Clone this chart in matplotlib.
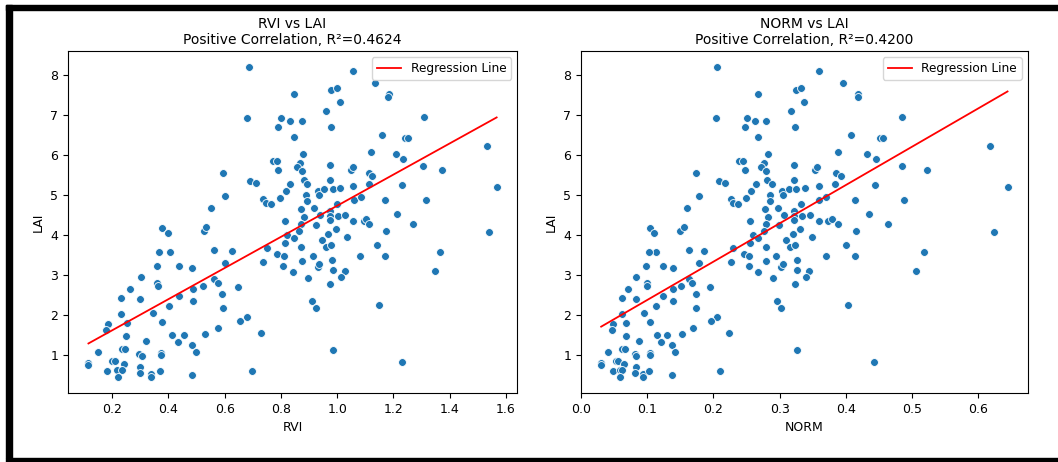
import numpy as np
import matplotlib
matplotlib.use("Agg")
import matplotlib.pyplot as plt
from matplotlib.patches import Rectangle

# LAI values (shared by both panels, same order)
lai = [
    8.22, 8.11, 7.81, 7.53, 7.45, 7.53, 7.63, 7.69, 7.34, 7.12,
    6.93, 6.93, 6.87, 6.85, 6.72, 6.72, 6.97, 6.45, 6.51, 6.43,
    6.43, 6.23, 6.04, 6.08, 6.03, 5.92, 5.55, 5.85, 5.85, 5.63,
    5.80, 5.72, 5.61, 5.76, 5.64, 5.72, 5.73, 5.63, 5.35, 5.31,
    5.38, 5.28, 5.28, 5.38, 5.24, 5.29, 5.57, 5.48, 5.27, 5.22,
    4.98, 4.69, 4.10, 4.20, 4.18, 4.07, 3.59, 3.59, 3.63, 3.60,
    3.30, 3.24, 3.24, 3.18, 2.97, 2.80, 2.73, 2.92, 2.80, 2.73,
    2.65, 2.72, 2.67, 2.44, 2.42, 2.48, 2.53, 2.35, 2.03, 2.05,
    2.23, 2.18, 1.84, 1.82, 1.97, 1.87, 1.78, 1.63, 1.68, 1.48,
    1.50, 1.50, 1.54, 1.56, 1.37, 1.33, 1.26, 1.09, 1.09, 1.15,
    1.15, 1.03, 0.98, 1.07, 1.00, 1.13, 0.81, 0.75, 0.87, 0.85,
    0.78, 0.60, 0.64, 0.64, 0.45, 0.72, 0.56, 0.54, 0.45, 0.60,
    0.52, 0.60, 0.83,
    4.90, 4.82, 4.78, 4.93, 5.10, 5.02, 4.85, 5.12, 5.00, 5.15,
    5.17, 5.18, 4.89, 4.95, 4.88, 4.88, 4.79, 4.67, 4.69, 4.62,
    4.47, 4.49, 4.38, 4.49, 4.50, 4.52, 4.35, 4.37, 4.36, 4.40,
    4.28, 4.54, 4.27, 4.28, 4.17, 4.12, 4.10, 4.29, 4.09, 4.01,
    3.93, 4.03, 3.97, 3.88, 3.80, 3.72, 3.76, 3.69, 3.71, 3.75,
    3.53, 3.48, 3.49, 3.48, 3.48, 3.58, 3.33, 3.36, 3.39, 3.23,
    3.20, 3.29, 3.09, 3.13, 3.12, 3.12, 2.97, 2.93, 2.79, 2.37,
    2.18, 2.27,
]

rvi = [
    0.685, 1.057, 1.133, 1.183, 1.180, 0.845, 0.980, 0.998, 1.010, 0.961,
    0.678, 0.799, 0.831, 0.874, 0.789, 0.980, 1.309, 0.848, 1.160, 1.243,
    1.252, 1.531, 0.880, 1.120, 1.209, 1.235, 0.593, 0.772, 0.787, 0.789,
    0.867, 0.858, 0.874, 0.976, 1.050, 1.057, 1.306, 1.372, 0.691, 0.711,
    0.881, 0.894, 0.833, 0.974, 1.058, 1.112, 1.115, 1.125, 1.232, 1.567,
    0.602, 0.553, 0.527, 0.533, 0.378, 0.400, 0.406, 0.368, 0.564, 0.628,
    0.602, 0.359, 0.438, 0.484, 0.302, 0.358, 0.364, 0.561, 0.578, 0.524,
    0.489, 0.649, 0.263, 0.233, 0.300, 0.438, 0.590, 0.488, 0.231, 0.347,
    0.403, 0.593, 0.377, 0.252, 0.679, 0.655, 0.185, 0.177, 0.578, 0.250,
    0.413, 0.457, 0.530, 0.730, 0.322, 0.433, 0.484, 0.497, 0.151, 0.234,
    0.246, 0.297, 0.308, 0.375, 0.375, 0.984, 0.116, 0.116, 0.200, 0.210,
    0.242, 0.182, 0.218, 0.235, 0.220, 0.301, 0.299, 0.337, 0.337, 0.371,
    0.483, 0.699, 1.229,
    0.736, 0.747, 0.766, 0.797, 0.817, 0.890, 0.894, 0.932, 0.936, 0.955,
    0.984, 1.010, 1.060, 1.085, 1.169, 1.316, 1.000, 0.873, 0.919, 0.974,
    0.883, 0.973, 0.973, 1.002, 1.028, 0.939, 0.815, 1.057, 1.094, 1.103,
    1.113, 1.214, 0.924, 0.871, 0.997, 0.866, 1.172, 1.268, 1.541, 0.822,
    0.848, 0.969, 1.034, 0.945, 0.815, 0.961, 0.980, 0.749, 0.873, 1.141,
    0.788, 0.811, 0.914, 1.082, 1.171, 1.366, 0.735, 0.874, 0.983, 0.808,
    0.931, 0.937, 0.842, 0.984, 1.027, 1.348, 1.014, 0.898, 0.976, 0.912,
    0.926, 1.150,
]

norm = [
    0.206, 0.359, 0.396, 0.419, 0.418, 0.267, 0.325, 0.332, 0.337, 0.317,
    0.204, 0.250, 0.263, 0.280, 0.247, 0.324, 0.485, 0.268, 0.408, 0.452,
    0.456, 0.619, 0.283, 0.388, 0.433, 0.446, 0.174, 0.239, 0.245, 0.248,
    0.276, 0.272, 0.279, 0.322, 0.354, 0.357, 0.485, 0.523, 0.208, 0.217,
    0.281, 0.289, 0.264, 0.322, 0.359, 0.384, 0.386, 0.393, 0.445, 0.645,
    0.178, 0.160, 0.150, 0.155, 0.104, 0.110, 0.113, 0.102, 0.163, 0.186,
    0.178, 0.098, 0.123, 0.138, 0.083, 0.099, 0.100, 0.163, 0.167, 0.151,
    0.139, 0.194, 0.070, 0.061, 0.082, 0.123, 0.174, 0.139, 0.061, 0.095,
    0.113, 0.174, 0.104, 0.067, 0.205, 0.196, 0.048, 0.047, 0.169, 0.067,
    0.115, 0.129, 0.152, 0.223, 0.087, 0.121, 0.137, 0.141, 0.041, 0.062,
    0.066, 0.081, 0.083, 0.104, 0.104, 0.326, 0.030, 0.030, 0.053, 0.055,
    0.064, 0.048, 0.059, 0.062, 0.058, 0.082, 0.081, 0.093, 0.093, 0.103,
    0.137, 0.210, 0.443,
    0.226, 0.230, 0.237, 0.249, 0.257, 0.286, 0.286, 0.304, 0.305, 0.315,
    0.325, 0.338, 0.360, 0.371, 0.414, 0.488, 0.333, 0.278, 0.298, 0.322,
    0.282, 0.322, 0.322, 0.334, 0.346, 0.307, 0.255, 0.359, 0.374, 0.380,
    0.388, 0.435, 0.299, 0.279, 0.331, 0.276, 0.415, 0.464, 0.625, 0.260,
    0.268, 0.320, 0.349, 0.309, 0.255, 0.316, 0.324, 0.230, 0.279, 0.400,
    0.246, 0.254, 0.295, 0.371, 0.414, 0.518, 0.226, 0.280, 0.326, 0.254,
    0.302, 0.305, 0.267, 0.326, 0.345, 0.507, 0.340, 0.290, 0.324, 0.296,
    0.302, 0.404,
]

# regression line (slope, intercept) and R^2 as shown in the figure
rvi_fit = (3.894, 0.848)
norm_fit = (9.56, 1.433)
r2_values = [0.4624, 0.4200]
names = ["RVI", "NORM"]


def draw_panel(ax, x, y, fit, name, r2):
    ax.scatter(x, y, s=32, color="#1f77b4", edgecolors="white", linewidths=0.6, zorder=2)
    xs = np.array([min(x), max(x)])
    ax.plot(xs, fit[0] * xs + fit[1], color="red", lw=1.3, label="Regression Line", zorder=3)
    ax.set_title(f"{name} vs LAI\nPositive Correlation, R\u00b2={r2:.4f}", fontsize=10, pad=5)
    ax.set_xlabel(name, fontsize=9)
    ax.set_ylabel("LAI", fontsize=9)
    ax.tick_params(labelsize=9)
    ax.legend(loc="upper right", fontsize=8.7)


fig = plt.figure(figsize=(10.58, 4.62), dpi=100)
ax1 = fig.add_axes([0.0643, 0.1494, 0.4244, 0.740])
ax2 = fig.add_axes([0.549, 0.1494, 0.4225, 0.740])

draw_panel(ax1, rvi, lai, rvi_fit, names[0], r2_values[0])
draw_panel(ax2, norm, lai, norm_fit, names[1], r2_values[1])

# black frame of the screenshot (left, top, bottom)
W, H = 1058, 462
for (x0, y0, w, h) in [(6, 5, 6, 453), (6, 5, 1052, 5), (6, 458, 1052, 4)]:
    fig.add_artist(Rectangle((x0 / W, 1 - (y0 + h) / H), w / W, h / H,
                             transform=fig.transFigure, color="black", zorder=10))

fig.savefig("out.png", dpi=100)
